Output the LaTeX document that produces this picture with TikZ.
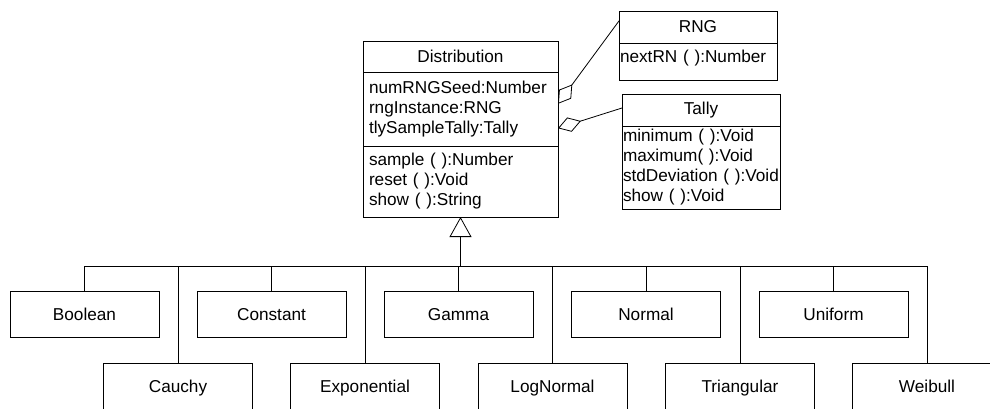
\documentclass[tikz,border=0pt]{standalone}
\usepackage{fontspec}
\setmainfont{Liberation Sans}
\usetikzlibrary{arrows.meta,positioning,calc}

\tikzset{
  umlbox/.style={draw, outer sep=0pt, inner ysep=0pt,
                 font=\fontsize{17.2}{20}\selectfont},
  classname/.style={umlbox, anchor=north west, align=center, minimum height=#1},
  compart/.style={umlbox, align=left, minimum height=#1},
  distbox/.style={text width=183pt, inner xsep=6pt},
  smallbox/.style={text width=156pt, inner xsep=1pt},
  leaf/.style={umlbox, minimum width=149pt, minimum height=46pt,
               text height=12.4pt, text depth=0pt},
  aggr/.style={{Diamond[open,length=24pt,width=15pt]}-},
  inherit/.style={-{Triangle[open,length=20pt,width=22pt]}}
}

\begin{document}
\begin{tikzpicture}
      [x=1pt, y=-1pt, line width=0.8pt]
      \useasboundingbox (0,0) rectangle (990,409);
      \clip (0,0) rectangle (990,409);

      % classes
      \node [classname=31pt, distbox] (distname) at (363,41) {Distribution};
      \node [compart=74pt, distbox, below=0pt of distname] (distattr)
            {numRNGSeed:Number\\rngInstance:RNG\\tlySampleTally:Tally};
      \node [compart=71pt, distbox, below=0pt of distattr] (distops)
            {sample ( ):Number\\reset ( ):Void\\show ( ):String};

      \node [classname=32pt, smallbox] (rngname) at (619,11) {RNG};
      \node [compart=37pt, smallbox, text depth=10.5pt, below=0pt of rngname] (rngops)
            {nextRN ( ):Number};

      \node [classname=32pt, smallbox] (tallyname) at (622,94) {Tally};
      \node [compart=83pt, smallbox, below=0pt of tallyname] (tallyops)
            {minimum ( ):Void\\maximum( ):Void\\stdDeviation ( ):Void\\show ( ):Void};

      % subclasses
      \node [leaf] (boolean)  at ( 84.5,314) {Boolean};
      \node [leaf] (constant) at (271.5,314) {Constant};
      \node [leaf] (gamma)    at (458.5,314) {Gamma};
      \node [leaf] (normal)   at (646,  314) {Normal};
      \node [leaf] (uniform)  at (833.5,314) {Uniform};

      \node [leaf] (cauchy)      at (178,  386) {Cauchy};
      \node [leaf] (exponential) at (365,  386) {Exponential};
      \node [leaf] (lognormal)   at (552.5,386) {LogNormal};
      \node [leaf] (triangular)  at (740,  386) {Triangular};
      \node [leaf] (weibull)     at (927,  386) {Weibull};

      \coordinate (bus) at (459,266);

      % associations
      \draw [aggr] ($(distattr.north east)!0.43!(distattr.south east)$)
                   to ($(rngname.north west)!0.31!(rngname.south west)$);
      \draw [aggr] ($(distattr.north east)!0.76!(distattr.south east)$)
                   to ([yshift=2pt]tallyname.west);

      % generalization
      \draw (boolean.north) |- (weibull.north |- bus) -- (weibull.north);
      \foreach \leafname in {constant,gamma,normal,uniform,cauchy,exponential,lognormal,triangular}
        \draw (\leafname.north) -- (\leafname.north |- bus);
      \draw [inherit] (distops.south |- bus) to (distops.south);
    \end{tikzpicture}
\end{document}
